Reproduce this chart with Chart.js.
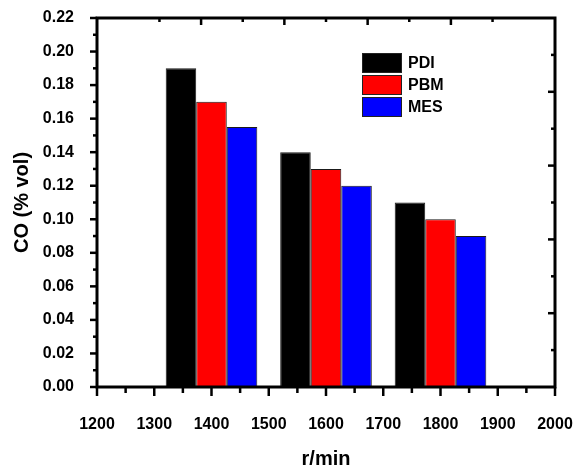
<!DOCTYPE html>
<html>
<head>
<meta charset="utf-8">
<script src="https://cdn.jsdelivr.net/npm/chart.js@4.4.1/dist/chart.umd.min.js"></script>
<style>
  html, body { margin: 0; padding: 0; background: #fff; }
  canvas { display: block; }
</style>
</head>
<body>
<canvas id="chart" width="577" height="467"></canvas>
<script>
// Rotational speed groups and CO concentration per method
const speeds = [1400, 1600, 1800];
const seriesNames = ['PDI', 'PBM', 'MES'];
const pdiValues = [0.19, 0.14, 0.11];
const pbmValues = [0.17, 0.13, 0.10];
const mesValues = [0.155, 0.12, 0.09];
const seriesColors = ['#000000', '#ff0000', '#0000ff'];

const xTickValues = [1200, 1300, 1400, 1500, 1600, 1700, 1800, 1900, 2000];
const yTickValues = [0, 0.02, 0.04, 0.06, 0.08, 0.10, 0.12, 0.14, 0.16, 0.18, 0.20, 0.22];

const FONT = '"Liberation Sans", Arial, sans-serif';

function toPoints(values) {
  return speeds.map((s, i) => ({ x: s, y: values[i] }));
}

// Frame with tick marks on all four sides (outward on left/bottom, inward on top/right)
const framePlugin = {
  id: 'frame',
  afterDatasetsDraw(chart) {
    const { ctx, chartArea: a, scales } = chart;
    const x = scales.x, y = scales.y, xt = scales.xTop, yr = scales.yRight;
    ctx.save();
    ctx.strokeStyle = '#000';
    ctx.lineCap = 'butt';

    // left axis
    ctx.lineWidth = 2.5;
    yTickValues.forEach((v, i) => {
      const py = y.getPixelForValue(v);
      ctx.beginPath(); ctx.moveTo(a.left - 7, py); ctx.lineTo(a.left, py); ctx.stroke();
      if (i < yTickValues.length - 1) {
        const pm = y.getPixelForValue((v + yTickValues[i + 1]) / 2);
        ctx.beginPath(); ctx.moveTo(a.left - 4, pm); ctx.lineTo(a.left, pm); ctx.stroke();
      }
    });
    // bottom axis
    xTickValues.forEach((v, i) => {
      const px = x.getPixelForValue(v);
      ctx.beginPath(); ctx.moveTo(px, a.bottom); ctx.lineTo(px, a.bottom + 9); ctx.stroke();
      if (i < xTickValues.length - 1) {
        const pm = x.getPixelForValue((v + xTickValues[i + 1]) / 2);
        ctx.beginPath(); ctx.moveTo(pm, a.bottom); ctx.lineTo(pm, a.bottom + 6); ctx.stroke();
      }
    });
    // top axis (inward)
    for (let k = 1; k < 10; k++) {
      const px = xt.getPixelForValue(k);
      const len = k % 2 === 0 ? 7 : 4;
      ctx.beginPath(); ctx.moveTo(px, a.top); ctx.lineTo(px, a.top + len); ctx.stroke();
    }
    // right axis (inward)
    for (let k = 1; k < 10; k++) {
      const py = yr.getPixelForValue(k);
      const len = k % 2 === 0 ? 7 : 4;
      ctx.beginPath(); ctx.moveTo(a.right, py); ctx.lineTo(a.right - len, py); ctx.stroke();
    }

    ctx.lineWidth = 3;
    ctx.strokeRect(a.left, a.top, a.right - a.left, a.bottom - a.top);
    ctx.restore();
  }
};

// Boxed legend inside the plot area
const legendPlugin = {
  id: 'boxLegend',
  afterDraw(chart) {
    const { ctx, chartArea: a } = chart;
    const bx = a.left + 265, by = a.top + 35;
    const bw = 40, bh = 20, step = 22;
    ctx.save();
    ctx.font = 'bold 16px ' + FONT;
    ctx.textBaseline = 'middle';
    ctx.textAlign = 'left';
    chart.data.datasets.forEach((ds, i) => {
      const yy = by + i * step;
      ctx.fillStyle = ds.backgroundColor;
      ctx.fillRect(bx, yy, bw, bh);
      ctx.strokeStyle = '#222';
      ctx.lineWidth = 1;
      ctx.strokeRect(bx + 0.5, yy + 0.5, bw - 1, bh - 1);
      ctx.fillStyle = '#000';
      ctx.fillText(ds.label, bx + bw + 6, yy + bh / 2 + 1);
    });
    ctx.restore();
  }
};

const datasets = [pdiValues, pbmValues, mesValues].map((vals, i) => ({
  label: seriesNames[i],
  data: toPoints(vals),
  backgroundColor: seriesColors[i],
  borderColor: '#1a1a1a',
  borderWidth: 1,
  categoryPercentage: 1.6,
  barPercentage: 1.0
}));

new Chart(document.getElementById('chart'), {
  type: 'bar',
  data: { datasets },
  options: {
    responsive: false,
    animation: false,
    layout: { padding: { top: 18, right: 22, left: 0, bottom: 0 } },
    plugins: { legend: { display: false }, tooltip: { enabled: false } },
    scales: {
      x: {
        type: 'linear',
        position: 'bottom',
        offset: false,
        min: 1200,
        max: 2000,
        afterBuildTicks(scale) { scale.ticks = xTickValues.map(v => ({ value: v })); },
        afterFit(scale) {
          scale.height = 80;
          scale.paddingLeft = 0;
          scale.paddingRight = 0;
        },
        grid: { display: false, drawTicks: false, offset: false },
        border: { display: false },
        ticks: {
          padding: 28,
          color: '#000',
          maxRotation: 0,
          autoSkip: false,
          font: { family: FONT, size: 16, weight: 'bold' },
          callback: v => String(v)
        },
        title: {
          display: true,
          text: 'r/min',
          color: '#000',
          padding: { top: 0, bottom: 0 },
          font: { family: FONT, size: 20, weight: 'bold', lineHeight: 0.8 }
        }
      },
      y: {
        type: 'linear',
        position: 'left',
        min: 0,
        max: 0.22,
        afterBuildTicks(scale) { scale.ticks = yTickValues.map(v => ({ value: v })); },
        afterFit(scale) {
          scale.width = 97;
          scale.paddingTop = 0;
          scale.paddingBottom = 0;
        },
        grid: { display: false, drawTicks: false },
        border: { display: false },
        ticks: {
          padding: 23,
          color: '#000',
          autoSkip: false,
          font: { family: FONT, size: 16, weight: 'bold' },
          callback: v => Number(v).toFixed(2)
        },
        title: {
          display: true,
          text: 'CO (% vol)',
          color: '#000',
          padding: { top: 10, bottom: 0 },
          font: { family: FONT, size: 20, weight: 'bold' }
        }
      },
      xTop: { type: 'linear', position: 'top', min: 0, max: 10, display: false },
      yRight: { type: 'linear', position: 'right', min: 0, max: 10, display: false }
    }
  },
  plugins: [framePlugin, legendPlugin]
});
</script>
</body>
</html>
